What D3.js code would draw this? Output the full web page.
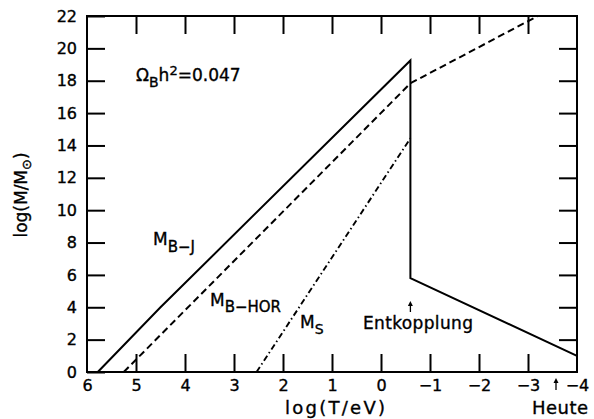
<!DOCTYPE html>
<html><head><meta charset="utf-8">
<script src="https://cdn.jsdelivr.net/npm/d3@7/dist/d3.min.js"></script>
<style>
html,body{margin:0;padding:0;background:#fff;}
svg{display:block;font-family:"DejaVu Sans",sans-serif;}
text{stroke:#000;stroke-width:0.35px;}
</style></head>
<body>
<svg id="chart" width="594" height="419"></svg>
<script>
// ---- data ----
const xDomain = [6, -4];
const yDomain = [0, 22];
const xTickValues = [6, 5, 4, 3, 2, 1, 0, -1, -2, -3, -4];
const yTickValues = [0, 2, 4, 6, 8, 10, 12, 14, 16, 18, 20, 22];
// M_B-J (solid): rises, drops at decoupling, then falls to today
const seriesBJ = [[5.78, 0], [4.5, 4.0], [-0.6, 19.25], [-0.6, 5.8], [-4, 1.0]];
// M_B-HOR (dashed)
const seriesBHOR = [[5.25, 0], [-0.6, 17.84], [-3.2, 22]];
// M_S (dash-dot)
const seriesS = [[2.54, 0], [-0.6, 14.44]];

// ---- layout ----
const svg = d3.select("#chart");
const L = 87, R = 577, T = 16, B = 372;
const x = d3.scaleLinear().domain(xDomain).range([L, R]);
const y = d3.scaleLinear().domain(yDomain).range([B, T]);
const tick = 18;

// axes
const fmt = d => d3.format("")(d).replace("-", "\u2212");
const gB = svg.append("g").attr("transform", `translate(0,${B})`)
  .call(d3.axisBottom(x).tickValues(xTickValues).tickSizeInner(-tick).tickSizeOuter(0).tickPadding(8).tickFormat(fmt));
const gT = svg.append("g").attr("transform", `translate(0,${T})`)
  .call(d3.axisTop(x).tickValues(xTickValues.slice(1, -1)).tickSizeInner(-tick).tickSizeOuter(0).tickFormat(""));
const gL = svg.append("g").attr("transform", `translate(${L},0)`)
  .call(d3.axisLeft(y).tickValues(yTickValues).tickSizeInner(-tick).tickSizeOuter(0).tickPadding(10));
const gR = svg.append("g").attr("transform", `translate(${R},0)`)
  .call(d3.axisRight(y).tickValues(yTickValues.slice(1, -1)).tickSizeInner(-tick).tickSizeOuter(0).tickFormat(""));
[gB, gT, gL, gR].forEach(g => {
  g.select(".domain").remove();
  g.selectAll(".tick line").attr("stroke", "#000").attr("stroke-width", 2);
  g.selectAll(".tick text").attr("fill", "#000").style("font-size", "16px").style("font-family", "DejaVu Sans");
});
gB.selectAll(".tick").filter(d => d === 6 || d === -4).select("line").remove();

// frame
svg.append("rect").attr("x", L).attr("y", T).attr("width", R - L).attr("height", B - T)
  .attr("fill", "none").attr("stroke", "#000").attr("stroke-width", 2);

// lines
const line = d3.line().x(d => x(d[0])).y(d => y(d[1]));
svg.append("path").datum(seriesBJ).attr("d", line).attr("fill", "none")
  .attr("stroke", "#000").attr("stroke-width", 2).attr("stroke-linejoin", "miter");
svg.append("path").datum(seriesBHOR).attr("d", line).attr("fill", "none")
  .attr("stroke", "#000").attr("stroke-width", 2).attr("stroke-dasharray", "7,4");
svg.append("path").datum(seriesS).attr("d", line).attr("fill", "none")
  .attr("stroke", "#000").attr("stroke-width", 1.9).attr("stroke-dasharray", "6,3,1.5,3");

// labels
function label(px, py, parts, size) {
  const t = svg.append("text").attr("x", px).attr("y", py).attr("fill", "#000")
    .style("font-size", size + "px");
  parts.forEach(p => {
    const ts = t.append("tspan").text(p.t);
    if (p.dy) ts.attr("dy", p.dy);
    if (p.fs) ts.style("font-size", p.fs + "px");
  });
  return t;
}
label(136, 81, [{t: "\u03A9"}, {t: "B", dy: 6, fs: 14}, {t: "h", dy: -6}, {t: "2", dy: -6, fs: 13}, {t: "=0.047", dy: 6}], 17);
label(153, 245, [{t: "M"}, {t: "B\u2212J", dy: 7, fs: 15}], 17);
label(210, 306, [{t: "M"}, {t: "B\u2212HOR", dy: 6, fs: 15}], 17);
label(300, 328, [{t: "M"}, {t: "S", dy: 6, fs: 14}], 17);
svg.append("text").attr("x", 363).attr("y", 329).attr("fill", "#000").style("font-size", "17px")
  .attr("textLength", 110).text("Entkopplung");

// small up arrows
function upArrow(px, y0, y1) {
  svg.append("line").attr("x1", px).attr("x2", px).attr("y1", y0).attr("y2", y1 + 2)
    .attr("stroke", "#000").attr("stroke-width", 1.3);
  svg.append("path").attr("d", `M${px - 2.5},${y1 + 4}L${px},${y1 - 1}L${px + 2.5},${y1 + 4}Z`).attr("fill", "#000");
}
upArrow(x(-0.6), 312, 302);
upArrow(x(-4) - 21, 390, 379);

// axis titles
svg.append("text").attr("x", 335).attr("y", 414).attr("text-anchor", "middle").attr("fill", "#000")
  .style("font-size", "18px").attr("textLength", 100).text("log(T/eV)");
svg.append("text").attr("x", 532).attr("y", 414).attr("fill", "#000")
  .style("font-size", "18px").attr("textLength", 56).text("Heute");
const yt = svg.append("text").attr("transform", "translate(27,195) rotate(-90)").attr("text-anchor", "middle")
  .attr("fill", "#000").style("font-size", "17px");
yt.append("tspan").text("log(M/M");
yt.append("tspan").text("\u2299").attr("dy", 4).style("font-size", "13px");
yt.append("tspan").text(")").attr("dy", -4);
</script>
</body></html>
